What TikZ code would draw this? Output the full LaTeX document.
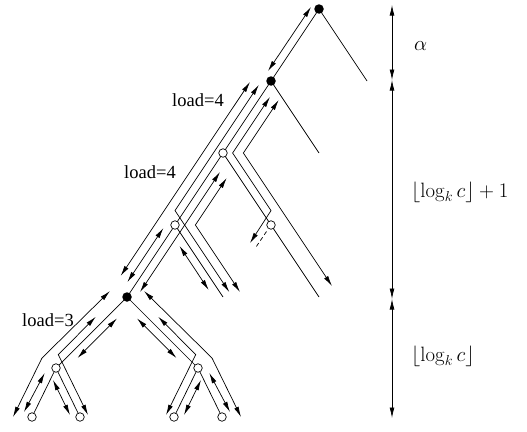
\documentclass[tikz,border=0pt]{standalone}
\usepackage[no-math]{fontspec}
\setmainfont{Liberation Serif}
\usetikzlibrary{arrows.meta}
\begin{document}
\begin{tikzpicture}[x=1pt,y=-1pt,
  ln/.style={line width=0.7pt},
  dar/.style={ln,{Latex[length=10.5pt,width=4.8pt]}-{Latex[length=10.5pt,width=4.8pt]}},
  fdot/.style={circle,fill=black,inner sep=0pt,minimum size=9.5pt},
  odot/.style={circle,draw,fill=white,line width=0.7pt,inner sep=0pt,minimum size=8.5pt},
  lbl/.style={font=\fontsize{18.5}{20}\selectfont,inner sep=0pt},
  mlbl/.style={font=\fontsize{22}{25}\selectfont,inner sep=0pt,anchor=west}]
\useasboundingbox (0,0) rectangle (527,431);
% tree skeleton
\coordinate (R) at (319,9);
\coordinate (A) at (271,81);
\coordinate (B) at (223,153);
\coordinate (C) at (271,225);
\coordinate (D) at (175,225);
\coordinate (E) at (127,297);
\coordinate (F) at (56,368);
\coordinate (G) at (198,368);
\coordinate (L1) at (32,417);
\coordinate (L2) at (80,417);
\coordinate (L3) at (174,417);
\coordinate (L4) at (222,417);
\coordinate (Rs) at (367,81);
\coordinate (As) at (319,153);
\coordinate (Cs) at (319,297);
\coordinate (Ds) at (223,297);
\coordinate (Cd1) at (266.5,231.5);
\coordinate (Cd2) at (256,247);
\draw[ln] (R) -- (Rs);
\draw[ln] (R) -- (A);
\draw[ln] (A) -- (As);
\draw[ln] (A) -- (B) -- (D) -- (E);
\draw[ln] (B) -- (C) -- (Cs);
\draw[ln] (D) -- (Ds);
\draw[ln,dash pattern=on 4pt off 3pt] (Cd1) -- (Cd2);
\draw[ln] (E) -- (F) -- (L1);
\draw[ln] (F) -- (L2);
\draw[ln] (E) -- (G) -- (L3);
\draw[ln] (G) -- (L4);
% paths (two-way)
\coordinate (p1a) at (268,71);   \coordinate (p1b) at (311,7);
\draw[dar] (p1a) -- (p1b);
\coordinate (p2a) at (250,82);   \coordinate (p2b) at (120.6,276);
\draw[dar] (p2a) -- (p2b);
\coordinate (p3a) at (258.8,84.9); \coordinate (p3k) at (175,210.6); \coordinate (p3b) at (229.3,292);
\draw[dar] (p3a) -- (p3k) -- (p3b);
\coordinate (p4a) at (270,97); \coordinate (p4k) at (232.6,153); \coordinate (p4l) at (271,210.6); \coordinate (p4b) at (250,243);
\draw[dar] (p4a) -- (p4k) -- (p4l) -- (p4b);
\coordinate (p5a) at (278.7,100); \coordinate (p5k) at (243.4,153); \coordinate (p5b) at (332,286);
\draw[dar] (p5a) -- (p5k) -- (p5b);
\coordinate (p7a) at (226.7,178); \coordinate (p7k) at (195.4,225); \coordinate (p7b) at (240,292);
\draw[dar] (p7a) -- (p7k) -- (p7b);
\coordinate (p8a) at (220,172); \coordinate (p8b) at (140,292);
\draw[dar] (p8a) -- (p8b);
\coordinate (p9a) at (163.4,228); \coordinate (p9b) at (127.4,282);
\draw[dar] (p9a) -- (p9b);
\coordinate (p10a) at (179.5,246); \coordinate (p10b) at (208.7,290);
\draw[dar] (p10a) -- (p10b);
% left subtree of E
\coordinate (q1a) at (110,291); \coordinate (q1k) at (42,358); \coordinate (q1b) at (13,417);
\draw[dar] (q1a) -- (q1k) -- (q1b);
\coordinate (q2a) at (44.7,373); \coordinate (q2b) at (24,412);
\draw[dar] (q2a) -- (q2b);
\coordinate (q3a) at (95.8,316.8); \coordinate (q3k) at (58.3,354.6); \coordinate (q3b) at (88,415);
\draw[dar] (q3a) -- (q3k) -- (q3b);
\coordinate (q4a) at (117,318.4); \coordinate (q4b) at (77.5,358);
\draw[dar] (q4a) -- (q4b);
\coordinate (q5a) at (53,380); \coordinate (q5b) at (70,415);
\draw[dar] (q5a) -- (q5b);
% right subtree of E
\coordinate (r1a) at (144,291); \coordinate (r1k) at (212,358); \coordinate (r1b) at (241,417);
\draw[dar] (r1a) -- (r1k) -- (r1b);
\coordinate (r2a) at (209.3,373); \coordinate (r2b) at (230,412);
\draw[dar] (r2a) -- (r2b);
\coordinate (r3a) at (158.2,316.8); \coordinate (r3k) at (195.7,354.6); \coordinate (r3b) at (166,415);
\draw[dar] (r3a) -- (r3k) -- (r3b);
\coordinate (r4a) at (137,318.4); \coordinate (r4b) at (176.5,358);
\draw[dar] (r4a) -- (r4b);
\coordinate (r5a) at (201,380); \coordinate (r5b) at (184,415);
\draw[dar] (r5a) -- (r5b);
% nodes
\node[fdot] (nR) at (R) {};
\node[fdot] (nA) at (A) {};
\node[fdot] (nE) at (E) {};
\foreach \n in {B,C,D,F,G,L1,L2,L3,L4} \node[odot] (n\n) at (\n) {};
% labels
\node[lbl] (l1) at (198,100) {load=4};
\node[lbl] (l2) at (150,172) {load=4};
\node[lbl] (l3) at (48,320) {load=3};
% scale
\coordinate (s0) at (392,5);
\coordinate (s1) at (392,80);
\coordinate (s2) at (392,299);
\coordinate (s3) at (392,418);
\draw[dar] (s0) -- (s1);
\draw[dar] (s1) -- (s2);
\draw[dar] (s2) -- (s3);
\node[mlbl] (m1) at (414,46) {$\alpha$};
\node[mlbl] (m2) at (411,192) {$\lfloor\log_k c\rfloor+1$};
\node[mlbl] (m3) at (411,356) {$\lfloor\log_k c\rfloor$};
\end{tikzpicture}
\end{document}
